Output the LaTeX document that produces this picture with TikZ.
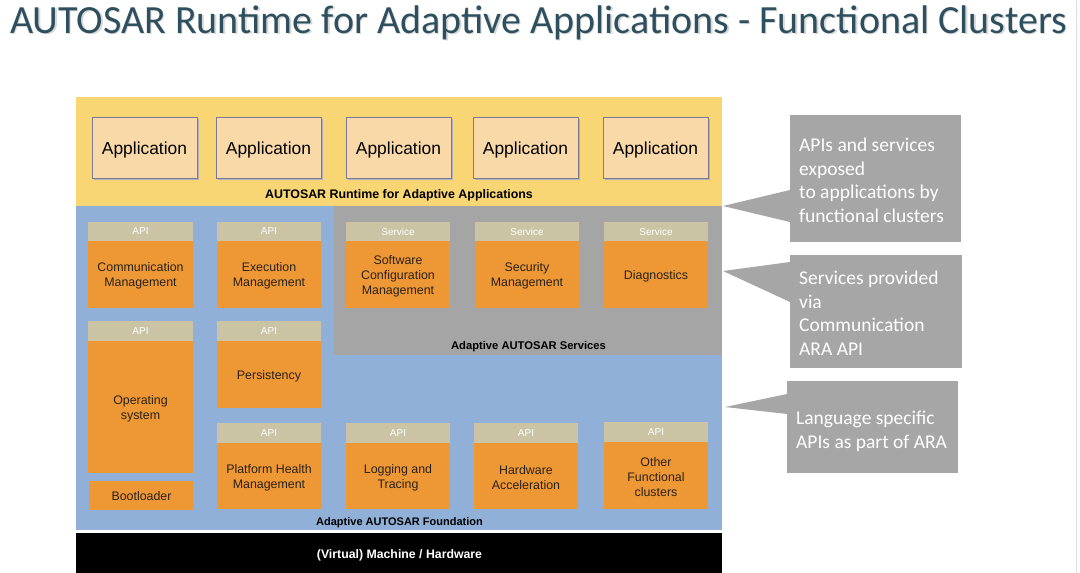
\documentclass[tikz,border=0pt]{standalone}
\usepackage{fontspec}
\setmainfont{Liberation Sans}
\newfontfamily\calib{Carlito}
\definecolor{titlec}{HTML}{2E4F5E}
\definecolor{yel}{HTML}{F8D673}
\definecolor{appf}{HTML}{F9D9A8}
\definecolor{appd}{HTML}{7D7894}
\definecolor{blu}{HTML}{91B0D8}
\definecolor{svc}{HTML}{A5A5A5}
\definecolor{hdrc}{HTML}{CAC4A4}
\definecolor{orng}{HTML}{EE9835}
\definecolor{callc}{HTML}{A6A6A6}
\definecolor{dtext}{HTML}{2A2118}
\tikzset{
  hdrtxt/.style={text=white,font=\fontsize{10}{12}\selectfont,inner sep=0pt},
  bodytxt/.style={text=dtext,font=\fontsize{12.4}{15}\selectfont,align=center,inner sep=0pt},
  bold/.style={text=black,font=\bfseries\fontsize{11.2}{13}\selectfont,inner sep=0pt},
  apptxt/.style={text=black,font=\fontsize{17.4}{20}\selectfont},
  calltxt/.style={text=white,font=\calib\fontsize{19.5}{23.6}\selectfont,align=left,anchor=north west,inner sep=0pt},
}
\newcommand\clu[8]{%
  \fill[hdrc] (#2,#4) rectangle (#3,#5);
  \node[hdrtxt] (#1h) at ({(#2+#3)/2},{(#4+#5)/2}) {#7};
  \fill[orng] (#2,#5) rectangle (#3,#6);
  \node[bodytxt] (#1) at ({(#2+#3)/2},{(#5+#6)/2+1.5}) {#8};
}
\newcommand\app[2]{%
  \fill[appd!60] (#2+1.5,118.5) rectangle (#2+106.5,179.5);
  \draw[appd,line width=0.9pt,fill=appf] (#2,117) rectangle (#2+105,178);
  \node[apptxt] (#1) at (#2+52.5,149.5) {Application};
}
\begin{document}
\begin{tikzpicture}[x=1pt,y=-1pt]
\useasboundingbox[fill=white] (0,0) rectangle (1080,573);
\draw[black!12,line width=1pt] (1076,0) -- (1076,573);
% title
\node[anchor=base west,inner sep=0pt,text=black!15,font=\calib\fontsize{40}{44}\selectfont] at (11.5,34.5) {AUTOSAR Runtime for Adaptive Applications - Functional Clusters};
\node[anchor=base west,inner sep=0pt,text=titlec,font=\calib\fontsize{40}{44}\selectfont] (title) at (10,33) {AUTOSAR Runtime for Adaptive Applications - Functional Clusters};
% layers
\fill[yel] (76,97) rectangle (722,206);
\fill[blu] (76,206) rectangle (722,530);
\fill[svc] (334,206) rectangle (722,355);
\fill[black] (76,533) rectangle (722,573);
\node[bold,font=\bfseries\fontsize{12.4}{14}\selectfont] (runtime) at (399,195) {AUTOSAR Runtime for Adaptive Applications};
\node[bold] (services) at (528.5,347) {Adaptive AUTOSAR Services};
\node[bold,font=\bfseries\fontsize{11}{13}\selectfont] (found) at (399.5,522.5) {Adaptive AUTOSAR Foundation};
\node[bold,text=white,font=\bfseries\fontsize{12.3}{14}\selectfont] (hw) at (399.5,555) {(Virtual) Machine / Hardware};
% applications
\app{a1}{92}
\app{a2}{216}
\app{a3}{346}
\app{a4}{473}
\app{a5}{603}
% row 1
\clu{com}{88}{193}{222}{241}{308}{API}{Communication\\Management}
\clu{exe}{217}{321}{222}{241}{308}{API}{Execution\\Management}
\clu{scm}{346}{450}{222}{241}{308}{Service}{Software\\Configuration\\Management}
\clu{sec}{475}{579}{222}{241}{308}{Service}{Security\\Management}
\clu{dia}{604}{708}{222}{241}{308}{Service}{Diagnostics}
% row 2
\clu{os}{88}{193}{321}{341}{473}{API}{Operating\\system}
\clu{per}{217}{321}{321}{341}{408}{API}{Persistency}
\fill[orng] (89,481) rectangle (193,510);
\node[bodytxt] (boot) at (141.5,496.5) {Bootloader};
% row 3
\clu{phm}{217}{321}{423}{443}{509}{API}{Platform Health\\Management}
\clu{log}{346}{450}{423}{443}{509}{API}{Logging and\\Tracing}
\clu{hwa}{474}{578}{423}{443}{509}{API}{Hardware\\Acceleration}
\clu{oth}{604}{708}{422}{442}{509}{API}{Other\\Functional\\clusters}
% callouts
\fill[callc] (790,115) rectangle (961,242);
\fill[callc] (790,190) -- (723,206) -- (790,222) -- cycle;
\node[calltxt] (c1) at (799,138) {APIs and services\\exposed\\to applications by\\functional clusters};
\fill[callc] (790,255) rectangle (962,368);
\fill[callc] (790,262) -- (723,271) -- (790,302) -- cycle;
\node[calltxt] (c2) at (799,271) {Services provided\\via\\Communication\\ARA API};
\fill[callc] (787,381) rectangle (958,473);
\fill[callc] (787,394) -- (725,407) -- (787,414) -- cycle;
\node[calltxt] (c3) at (796,411) {Language specific\\APIs as part of ARA};
\end{tikzpicture}
\end{document}
